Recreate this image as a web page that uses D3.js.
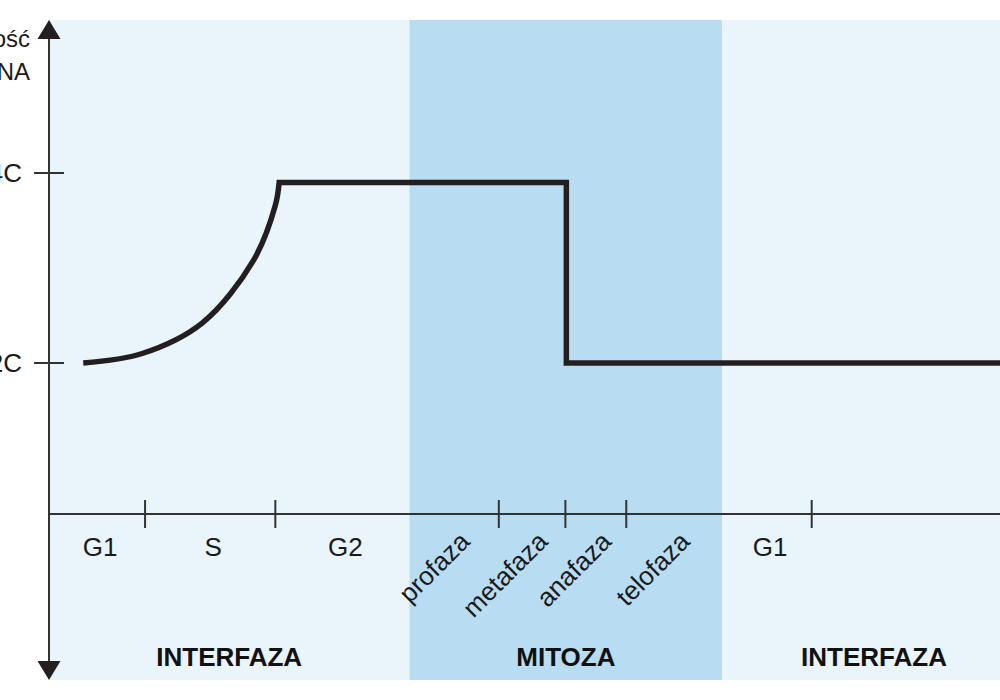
<!DOCTYPE html>
<html>
<head>
<meta charset="utf-8">
<script src="https://cdn.jsdelivr.net/npm/d3@7"></script>
<style>
  html, body { margin: 0; padding: 0; background: #fff; }
  svg { display: block; font-family: "Liberation Sans", Arial, sans-serif; }
</style>
</head>
<body>
<div id="chart"></div>
<script>
// Time along the cell cycle (arbitrary units), DNA amount in C
const phases = [
    { name: 'INTERFAZA', start: 0, end: 37.9 },
    { name: 'MITOZA', start: 37.9, end: 70.8 },
    { name: 'INTERFAZA', start: 70.8, end: 102.7 },
];
const stages = [
    { name: 'G1', start: 0, end: 10.1 },
    { name: 'S', start: 10.1, end: 23.8 },
    { name: 'G2', start: 23.8, end: 37.9 },
    { name: 'profaza', start: 37.9, end: 47.3, rotated: true },
    { name: 'metafaza', start: 47.3, end: 54.3, rotated: true },
    { name: 'anafaza', start: 54.3, end: 60.7, rotated: true },
    { name: 'telofaza', start: 60.7, end: 70.8, rotated: true },
    { name: 'G1', start: 70.8, end: 80.2 },
];
const stageTicks = [10.1, 23.8, 47.3, 54.3, 60.7, 80.2];
const dnaTicks = [2, 4];
const yLabel = ['Ilość', 'DNA'];

// S phase: replication curve
const replication = [
    [3.6, 2.0], [9.8, 2.10], [16.1, 2.42], [21.5, 3.08], [23.8, 3.66],
    [24.2, 3.9],
];
// G2 plateau, drop at anafaza, back to 2C
const afterReplication = [
    [24.2, 3.9], [54.4, 3.9], [54.4, 2.0], [102.7, 2.0],
];

const W = 1000, H = 700;
const axisX = 49, plotTop = 20, plotBottom = 680, baseY = 514;

const x = d3.scaleLinear().domain([0, 100]).range([axisX, 1000]);
const y = d3.scaleLinear().domain([0, 4]).range([553, 173]);

const svg = d3.select('#chart').append('svg')
    .attr('width', W).attr('height', H);

// phase backgrounds
svg.selectAll('rect.phase')
    .data(phases)
    .enter()
    .append('rect')
    .attr('class', 'phase')
    .attr('x', (d) => x(d.start))
    .attr('y', plotTop)
    .attr('width', (d) => x(d.end) - x(d.start))
    .attr('height', plotBottom - plotTop)
    .style('fill', (d) => d.name === 'MITOZA' ? '#b8dcf1' : '#e9f4fb');

// x axis line + stage ticks
svg.append('line')
    .attr('x1', axisX).attr('x2', W)
    .attr('y1', baseY).attr('y2', baseY)
    .style('stroke', '#333').style('stroke-width', 2);

svg.selectAll('line.stick')
    .data(stageTicks)
    .enter()
    .append('line')
    .attr('class', 'stick')
    .attr('x1', (d) => x(d)).attr('x2', (d) => x(d))
    .attr('y1', baseY - 14).attr('y2', baseY + 14)
    .style('stroke', '#333').style('stroke-width', 2);

// stage labels
svg.selectAll('text.stage')
    .data(stages.filter((d) => !d.rotated))
    .enter()
    .append('text')
    .attr('class', 'stage')
    .attr('x', (d) => (x(d.start) + x(d.end)) / 2 + 3)
    .attr('y', 556)
    .attr('text-anchor', 'middle')
    .style('font-size', '26px')
    .style('fill', '#1a1a1a')
    .text((d) => d.name);

svg.selectAll('text.mstage')
    .data(stages.filter((d) => d.rotated))
    .enter()
    .append('text')
    .attr('class', 'mstage')
    .attr('text-anchor', 'end')
    .attr('transform', (d) => `translate(${(x(d.start) + x(d.end)) / 2 + 17},543) rotate(-45)`)
    .style('font-size', '26px')
    .style('fill', '#1a1a1a')
    .text((d) => d.name);

// phase labels
svg.selectAll('text.phase')
    .data(phases)
    .enter()
    .append('text')
    .attr('class', 'phase')
    .attr('x', (d) => (x(d.start) + x(d.end)) / 2)
    .attr('y', 666)
    .attr('text-anchor', 'middle')
    .style('font-size', '26px')
    .style('font-weight', 'bold')
    .style('fill', '#111')
    .text((d) => d.name);

// y axis with arrows
svg.append('line')
    .attr('x1', axisX).attr('x2', axisX)
    .attr('y1', plotTop + 10).attr('y2', plotBottom - 10)
    .style('stroke', '#333').style('stroke-width', 2);
svg.append('path')
    .attr('d', `M${axisX},${plotTop} L${axisX - 11.5},${plotTop + 19} L${axisX + 11.5},${plotTop + 19} Z`)
    .style('fill', '#231f20');
svg.append('path')
    .attr('d', `M${axisX},${plotBottom} L${axisX - 11.5},${plotBottom - 19} L${axisX + 11.5},${plotBottom - 19} Z`)
    .style('fill', '#231f20');

svg.selectAll('line.ytick')
    .data(dnaTicks)
    .enter()
    .append('line')
    .attr('class', 'ytick')
    .attr('x1', axisX - 15).attr('x2', axisX + 15)
    .attr('y1', (d) => y(d)).attr('y2', (d) => y(d))
    .style('stroke', '#333').style('stroke-width', 2);

svg.selectAll('text.ytick')
    .data(dnaTicks)
    .enter()
    .append('text')
    .attr('class', 'ytick')
    .attr('x', 22)
    .attr('y', (d) => y(d) + 9)
    .attr('text-anchor', 'end')
    .style('font-size', '26px')
    .style('fill', '#1a1a1a')
    .text((d) => d + 'C');

svg.append('text')
    .attr('text-anchor', 'end')
    .style('font-size', '24px')
    .style('fill', '#1a1a1a')
    .selectAll('tspan')
    .data(yLabel)
    .enter()
    .append('tspan')
    .attr('x', 30)
    .attr('y', (d, i) => 47 + i * 33)
    .text((d) => d);

// DNA amount line: curve for S phase, then straight steps
const curvePath = d3.line()
    .x((d) => x(d[0])).y((d) => y(d[1]))
    .curve(d3.curveCatmullRom.alpha(0.5))(replication);
const stepPath = d3.line()
    .x((d) => x(d[0])).y((d) => y(d[1]))(afterReplication.slice(1));

svg.append('path')
    .attr('d', curvePath + stepPath.replace(/^M/, 'L'))
    .style('fill', 'none')
    .style('stroke', '#231f20')
    .style('stroke-width', 5.5)
    .style('stroke-linejoin', 'miter');
</script>
</body>
</html>
